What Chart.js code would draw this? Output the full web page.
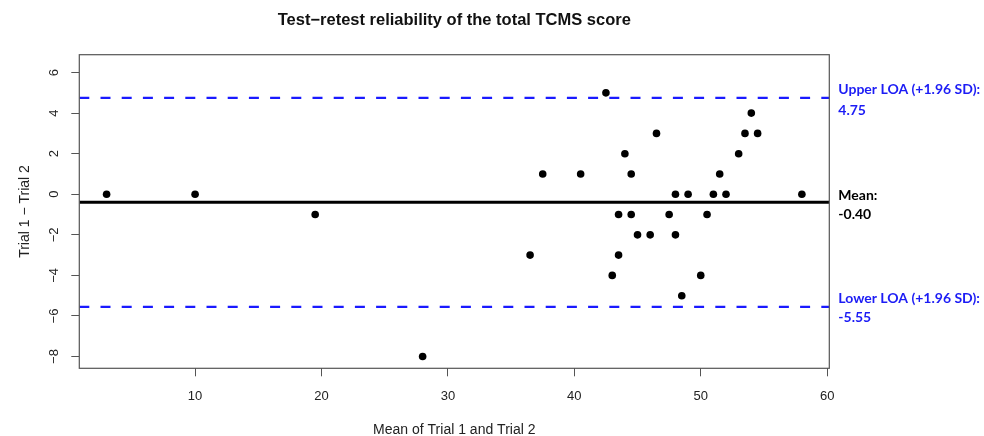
<!DOCTYPE html>
<html>
<head>
<meta charset="utf-8">
<script src="https://cdn.jsdelivr.net/npm/chart.js@4.4.1/dist/chart.umd.min.js"></script>
<style>
html,body{margin:0;padding:0;background:#fff;}
#wrap{width:984px;height:436px;position:relative;}
</style>
</head>
<body>
<div id="wrap"><canvas id="c" width="984" height="436"></canvas></div>
<script>
// ---- data ----
const meanOfTrials = [3, 10, 19.5, 28, 36.5, 37.5, 40.5, 42.5, 43, 43.5, 43.5, 44, 44.5, 44.5, 45, 46, 46.5, 47.5, 48, 48, 48.5, 49, 50, 50.5, 51, 51.5, 52, 53, 53.5, 54, 54.5, 58];
const diffTrials   = [0, 0, -1, -8, -3, 1, 1, 5, -4, -1, -3, 2, 1, -1, -2, -2, 3, -1, 0, -2, -5, 0, -4, -1, 0, 1, 0, 2, 3, 4, 3, 0];
const meanDiff = -0.40;
const upperLOA = 4.75;
const lowerLOA = -5.55;
const xTicks = [10, 20, 30, 40, 50, 60];
const yTicks = [-8, -6, -4, -2, 0, 2, 4, 6];
const X_MIN = 0.84, X_MAX = 60.17, Y_MIN = -8.58, Y_MAX = 6.88;
const titleText = "Test\u2212retest reliability of the total TCMS score";
const xTitle = "Mean of Trial 1 and Trial 2";
const yTitle = "Trial 1 \u2212 Trial 2";
const rightLabels = [
  {value: upperLOA, lines: ["Upper LOA (+1.96 SD):", upperLOA.toFixed(2)], color: "#1c1cf5", d1: -8, d2: 12.5},
  {value: meanDiff, lines: ["Mean:", meanDiff.toFixed(2)], color: "#000000", d1: -7, d2: 12.5},
  {value: lowerLOA, lines: ["Lower LOA (+1.96 SD):", lowerLOA.toFixed(2)], color: "#1c1cf5", d1: -8, d2: 11}
];

const points = meanOfTrials.map((x, i) => ({x: x, y: diffTrials[i]}));
const hline = v => [{x: X_MIN, y: v}, {x: X_MAX, y: v}];

const framePlugin = {
  id: 'frame',
  afterDraw(chart) {
    const ctx = chart.ctx, a = chart.chartArea;
    ctx.save();
    ctx.strokeStyle = '#555';
    ctx.lineWidth = 1.2;
    ctx.strokeRect(a.left, a.top, a.right - a.left, a.bottom - a.top);
    // rotated y tick labels
    const ys = chart.scales.y;
    ctx.fillStyle = '#222';
    ctx.font = '13px "Liberation Sans", Arial, sans-serif';
    ctx.textAlign = 'center';
    ctx.textBaseline = 'middle';
    yTicks.forEach(v => {
      const py = ys.getPixelForValue(v);
      ctx.save();
      ctx.translate(54, py);
      ctx.rotate(-Math.PI / 2);
      ctx.fillText(v < 0 ? '\u2212' + Math.abs(v) : String(v), 0, 0);
      ctx.restore();
    });
    // right-side labels
    ctx.font = 'bold 14px Lato, "Open Sans", sans-serif';
    ctx.textAlign = 'left';
    rightLabels.forEach(l => {
      const py = ys.getPixelForValue(l.value);
      ctx.fillStyle = l.color;
      ctx.fillText(l.lines[0], a.right + 9, py + l.d1);
      ctx.fillText(l.lines[1], a.right + 9, py + l.d2);
    });
    ctx.restore();
  }
};

new Chart(document.getElementById('c'), {
  type: 'scatter',
  data: {
    datasets: [
      {type: 'line', data: hline(upperLOA), borderColor: '#1a1aff', borderWidth: 2.4, borderDash: [10, 11.2], pointRadius: 0, order: 0},
      {type: 'line', data: hline(lowerLOA), borderColor: '#1a1aff', borderWidth: 2.4, borderDash: [10, 11.2], pointRadius: 0, order: 0},
      {type: 'line', data: hline(meanDiff), borderColor: '#000', borderWidth: 3, pointRadius: 0, order: 0},
      {data: points, backgroundColor: '#000', borderWidth: 0, pointRadius: 3.8, order: 1}
    ]
  },
  options: {
    responsive: false,
    animation: false,
    devicePixelRatio: 1,
    layout: {padding: {left: 0, top: 0, right: 154.7, bottom: 0}},
    plugins: {
      legend: {display: false},
      tooltip: {enabled: false},
      title: {
        display: true, text: titleText, fullSize: false, color: '#111',
        font: {family: '"Liberation Sans", Arial, sans-serif', size: 16.5, weight: 'bold', lineHeight: 1.2},
        padding: {top: 10.1, bottom: 24.8}
      }
    },
    scales: {
      x: {
        type: 'linear', min: X_MIN, max: X_MAX,
        afterBuildTicks: s => { s.ticks = xTicks.map(v => ({value: v})); },
        afterFit: s => { s.height = 67.7; },
        border: {display: false},
        grid: {drawOnChartArea: false, drawTicks: true, tickLength: 8, color: '#555', lineWidth: 1},
        ticks: {color: '#222', padding: 12, maxRotation: 0, font: {family: '"Liberation Sans", Arial, sans-serif', size: 13}, callback: v => String(v)},
        title: {display: true, text: xTitle, color: '#222', font: {family: '"Liberation Sans", Arial, sans-serif', size: 14}, padding: {top: 0, bottom: -2.5}}
      },
      y: {
        type: 'linear', min: Y_MIN, max: Y_MAX,
        afterBuildTicks: s => { s.ticks = yTicks.map(v => ({value: v})); },
        afterFit: s => { s.width = 79.3; },
        border: {display: false},
        grid: {drawOnChartArea: false, drawTicks: true, tickLength: 8, color: '#555', lineWidth: 1},
        ticks: {display: false},
        title: {display: true, text: yTitle, color: '#222', font: {family: '"Liberation Sans", Arial, sans-serif', size: 14}, padding: {top: 17, bottom: 0}}
      }
    }
  },
  plugins: [framePlugin]
});
</script>
</body>
</html>
